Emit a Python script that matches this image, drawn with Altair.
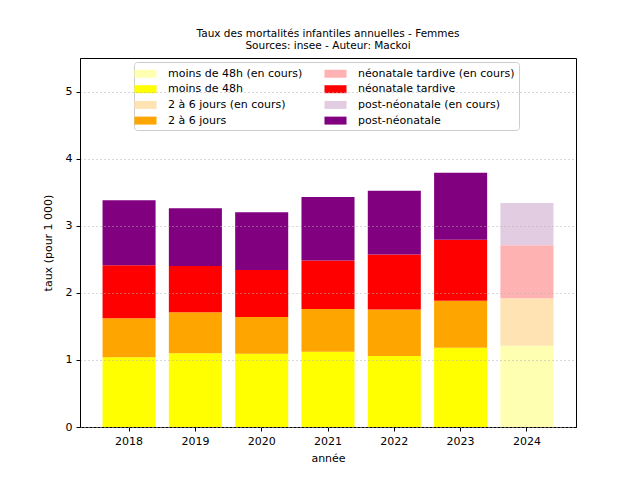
import altair as alt
import pandas as pd

years = ["2018", "2019", "2020", "2021", "2022", "2023", "2024"]
moins48 = [1.04, 1.10, 1.09, 1.12, 1.06, 1.18, 1.21]
deux_six = [0.58, 0.61, 0.55, 0.64, 0.69, 0.70, 0.71]
neonat = [0.79, 0.69, 0.70, 0.72, 0.82, 0.91, 0.79]
postneo = [0.97, 0.86, 0.86, 0.95, 0.95, 1.00, 0.63]
en_cours_year = "2024"

base_names = ["moins de 48h", "2 à 6 jours", "néonatale tardive", "post-néonatale"]
series = [moins48, deux_six, neonat, postneo]
colors_full = ["#ffff00", "#ffa500", "#ff0000", "#800080"]
colors_light = ["#ffffb2", "#ffe3b3", "#ffb2b2", "#e2cce2"]

rows = []
for si, (name, vals) in enumerate(zip(base_names, series)):
    for y, v in zip(years, vals):
        cat = name + " (en cours)" if y == en_cours_year else name
        rows.append({"année": y, "catégorie": cat, "valeur": v, "ordre": si})
df = pd.DataFrame(rows)

cmap = {}
domain = []
for n, cf, cl in zip(base_names, colors_full, colors_light):
    cmap[n] = cf
    cmap[n + " (en cours)"] = cl
    domain += [n + " (en cours)", n]
rng = [cmap[d] for d in domain]

chart = alt.Chart(df).mark_bar().encode(
    x=alt.X("année:O", title="année",
            scale=alt.Scale(paddingInner=0.2, paddingOuter=0.34),
            axis=alt.Axis(labelAngle=0, grid=False, titlePadding=6)),
    y=alt.Y("sum(valeur):Q", title="taux (pour 1 000)", stack="zero",
            scale=alt.Scale(domain=[0, 5.5], nice=False),
            axis=alt.Axis(values=[0, 1, 2, 3, 4, 5], format="d", grid=True,
                          gridColor="#b0b0b0", gridDash=[1, 3], gridWidth=1,
                          zindex=1, titlePadding=12)),
    color=alt.Color("catégorie:N", scale=alt.Scale(domain=domain, range=rng),
                    legend=alt.Legend(title=None, orient="none", legendX=54, legendY=4,
                                      columns=2, columnPadding=21, rowPadding=2.7,
                                      symbolType="M-1.47,-0.53H1.47V0.53H-1.47Z",
                                      symbolSize=225, direction="vertical",
                                      symbolStrokeWidth=0, labelFontSize=11,
                                      labelFont="DejaVu Sans", labelColor="#000",
                                      padding=4, strokeColor="#cccccc", fillColor="white",
                                      cornerRadius=3, labelOffset=15)),
    order=alt.Order("ordre:Q", sort="ascending"),
).properties(
    width=496, height=369,
    title=alt.TitleParams(["Taux des mortalités infantiles annuelles - Femmes",
                           "Sources: insee - Auteur: Mackoi"],
                          fontSize=10.5, fontWeight="normal", font="DejaVu Sans",
                          anchor="middle", lineHeight=12, offset=7, color="#000"),
    autosize=alt.AutoSizeParams(type="none"),
    padding={"left": 72, "top": 50, "right": 56, "bottom": 45},
).configure_view(stroke="#000", strokeWidth=1).configure_axis(
    domainColor="#000", tickColor="#000", tickSize=4, labelFontSize=11,
    titleFontSize=11, labelFont="DejaVu Sans", titleFont="DejaVu Sans",
    labelColor="#000", titleColor="#000", titleFontWeight="normal", labelPadding=4,
)

chart.save("out.html", embed_options={"renderer": "svg", "actions": False})
